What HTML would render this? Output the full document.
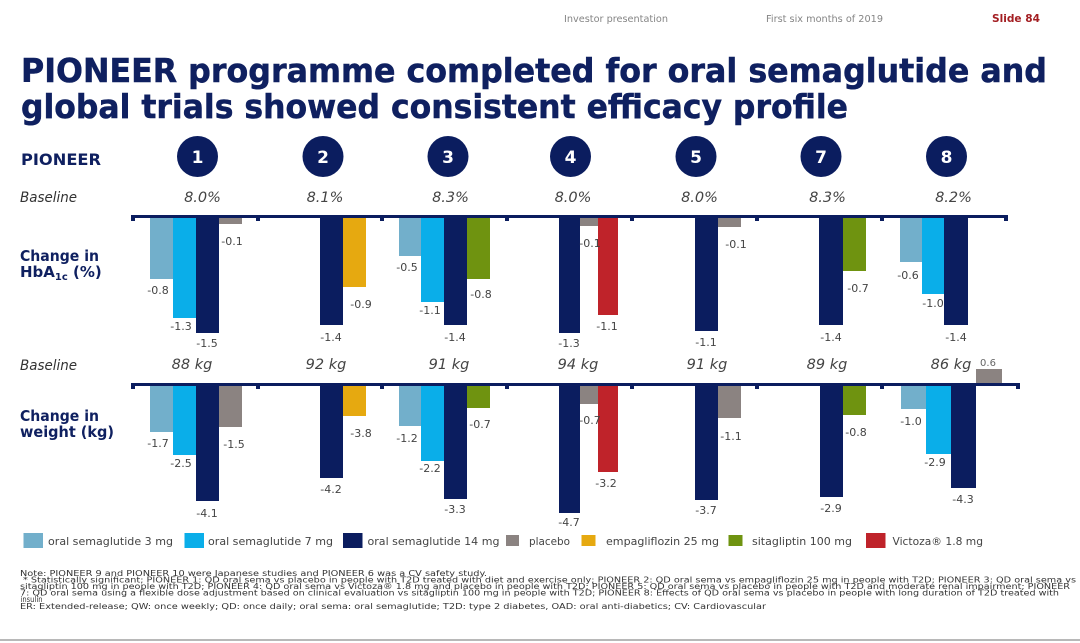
<!DOCTYPE html>
<html><head><meta charset="utf-8"><style>
html,body{margin:0;padding:0;background:#fff;}
svg{display:block;}
text{font-family:"DejaVu Sans","Liberation Sans",sans-serif;}
</style></head><body>
<svg width="1080" height="643" viewBox="0 0 1080 643" xmlns="http://www.w3.org/2000/svg">
<rect x="0" y="0" width="1080" height="643" fill="#fff"/>
<!-- header -->
<text x="564" y="22" font-size="10" fill="#858585" textLength="104" lengthAdjust="spacingAndGlyphs">Investor presentation</text>
<text x="766" y="22" font-size="10" fill="#858585" textLength="117" lengthAdjust="spacingAndGlyphs">First six months of 2019</text>
<text x="992" y="22" font-size="11" font-weight="bold" fill="#a31e22" textLength="48" lengthAdjust="spacingAndGlyphs">Slide 84</text>
<!-- title -->
<text x="21" y="82" font-size="33" font-weight="bold" fill="#0f2060" stroke="#0f2060" stroke-width="0.5" textLength="1026" lengthAdjust="spacingAndGlyphs">PIONEER programme completed for oral semaglutide and</text>
<text x="21" y="118" font-size="33" font-weight="bold" fill="#0f2060" stroke="#0f2060" stroke-width="0.5" textLength="827" lengthAdjust="spacingAndGlyphs">global trials showed consistent efficacy profile</text>
<!-- row labels -->
<text x="21" y="165" font-size="16" font-weight="bold" fill="#0f2060" textLength="80" lengthAdjust="spacingAndGlyphs">PIONEER</text>
<text x="20" y="202" font-size="14" font-style="italic" fill="#333" textLength="57" lengthAdjust="spacingAndGlyphs">Baseline</text>
<text x="20" y="261" font-size="15" font-weight="bold" fill="#0f2060" textLength="79" lengthAdjust="spacingAndGlyphs">Change in</text>
<text x="20" y="277" font-size="15" font-weight="bold" fill="#0f2060">HbA<tspan font-size="10" dy="3">1c</tspan><tspan dy="-3"> (%)</tspan></text>
<text x="20" y="370" font-size="14" font-style="italic" fill="#333" textLength="57" lengthAdjust="spacingAndGlyphs">Baseline</text>
<text x="20" y="421" font-size="15" font-weight="bold" fill="#0f2060" textLength="79" lengthAdjust="spacingAndGlyphs">Change in</text>
<text x="20" y="437" font-size="15" font-weight="bold" fill="#0f2060" textLength="94" lengthAdjust="spacingAndGlyphs">weight (kg)</text>
<!-- circles -->
<g fill="#0b1d5f">
<circle cx="197.5" cy="156.5" r="20.5"/><circle cx="323" cy="156.5" r="20.5"/><circle cx="448" cy="156.5" r="20.5"/>
<circle cx="570.5" cy="156.5" r="20.5"/><circle cx="696" cy="156.5" r="20.5"/><circle cx="821" cy="156.5" r="20.5"/><circle cx="946.5" cy="156.5" r="20.5"/>
</g>
<g font-size="17" font-weight="bold" fill="#fff" text-anchor="middle">
<text x="197.5" y="163">1</text><text x="323" y="163">2</text><text x="448" y="163">3</text>
<text x="570.5" y="163">4</text><text x="696" y="163">5</text><text x="821" y="163">7</text><text x="946.5" y="163">8</text>
</g>
<!-- baselines hba1c -->
<g font-size="14.5" font-style="italic" fill="#444" text-anchor="middle">
<text x="202.5" y="202">8.0%</text><text x="325" y="202">8.1%</text><text x="450.5" y="202">8.3%</text>
<text x="573" y="202">8.0%</text><text x="699.5" y="202">8.0%</text><text x="827.5" y="202">8.3%</text><text x="953.5" y="202">8.2%</text>
</g>
<!-- baselines weight -->
<g font-size="14.5" font-style="italic" fill="#444" text-anchor="middle">
<text x="192" y="369">88 kg</text><text x="326" y="369">92 kg</text><text x="449" y="369">91 kg</text>
<text x="578" y="369">94 kg</text><text x="707" y="369">91 kg</text><text x="827" y="369">89 kg</text><text x="951" y="369">86 kg</text>
</g>
<!-- HbA1c axis -->
<rect x="131" y="215" width="877" height="3" fill="#0b1d5f"/>
<g fill="#0b1d5f">
<rect x="131" y="215" width="4" height="6"/><rect x="256" y="215" width="4" height="6"/><rect x="380" y="215" width="4" height="6"/>
<rect x="505" y="215" width="4" height="6"/><rect x="630" y="215" width="4" height="6"/><rect x="755" y="215" width="4" height="6"/>
<rect x="880" y="215" width="4" height="6"/><rect x="1004" y="215" width="4" height="6"/>
</g>
<!-- HbA1c bars -->
<rect x="150" y="218" width="23" height="61" fill="#72afcb"/>
<rect x="173" y="218" width="23" height="100" fill="#0aaee9"/>
<rect x="196" y="218" width="23" height="115" fill="#0b1d5f"/>
<rect x="219" y="218" width="23" height="6" fill="#8b8381"/>
<rect x="320" y="218" width="23" height="107" fill="#0b1d5f"/>
<rect x="343" y="218" width="23" height="69" fill="#e6a910"/>
<rect x="399" y="218" width="22" height="38" fill="#72afcb"/>
<rect x="421" y="218" width="23" height="84" fill="#0aaee9"/>
<rect x="444" y="218" width="23" height="107" fill="#0b1d5f"/>
<rect x="467" y="218" width="23" height="61" fill="#6f9310"/>
<rect x="559" y="218" width="21" height="115" fill="#0b1d5f"/>
<rect x="580" y="218" width="18" height="8" fill="#8b8381"/>
<rect x="598" y="218" width="20" height="97" fill="#bf232a"/>
<rect x="695" y="218" width="23" height="113" fill="#0b1d5f"/>
<rect x="718" y="218" width="23" height="9" fill="#8b8381"/>
<rect x="819" y="218" width="24" height="107" fill="#0b1d5f"/>
<rect x="843" y="218" width="23" height="53" fill="#6f9310"/>
<rect x="900" y="218" width="22" height="44" fill="#72afcb"/>
<rect x="922" y="218" width="22" height="76" fill="#0aaee9"/>
<rect x="944" y="218" width="24" height="107" fill="#0b1d5f"/>
<!-- HbA1c labels -->
<g font-size="11" fill="#444" text-anchor="middle">
<text x="158" y="294">-0.8</text><text x="181" y="330">-1.3</text><text x="207" y="347">-1.5</text><text x="232" y="245">-0.1</text>
<text x="331" y="341">-1.4</text><text x="361" y="308">-0.9</text>
<text x="407" y="271">-0.5</text><text x="430" y="314">-1.1</text><text x="455" y="341">-1.4</text><text x="481" y="298">-0.8</text>
<text x="569" y="347">-1.3</text><text x="590" y="247">-0.1</text><text x="607" y="330">-1.1</text>
<text x="706" y="346">-1.1</text><text x="736" y="248">-0.1</text>
<text x="831" y="341">-1.4</text><text x="858" y="292">-0.7</text>
<text x="908" y="279">-0.6</text><text x="933" y="307">-1.0</text><text x="956" y="341">-1.4</text>
</g>
<!-- Weight axis -->
<rect x="131" y="383" width="889" height="3" fill="#0b1d5f"/>
<g fill="#0b1d5f">
<rect x="131" y="383" width="4" height="6"/><rect x="256" y="383" width="4" height="6"/><rect x="380" y="383" width="4" height="6"/>
<rect x="505" y="383" width="4" height="6"/><rect x="630" y="383" width="4" height="6"/><rect x="755" y="383" width="4" height="6"/>
<rect x="880" y="383" width="4" height="6"/><rect x="1016" y="383" width="4" height="6"/>
</g>
<!-- Weight bars -->
<rect x="150" y="386" width="23" height="46" fill="#72afcb"/>
<rect x="173" y="386" width="23" height="69" fill="#0aaee9"/>
<rect x="196" y="386" width="23" height="115" fill="#0b1d5f"/>
<rect x="219" y="386" width="23" height="41" fill="#8b8381"/>
<rect x="320" y="386" width="23" height="92" fill="#0b1d5f"/>
<rect x="343" y="386" width="23" height="30" fill="#e6a910"/>
<rect x="399" y="386" width="22" height="40" fill="#72afcb"/>
<rect x="421" y="386" width="23" height="75" fill="#0aaee9"/>
<rect x="444" y="386" width="23" height="113" fill="#0b1d5f"/>
<rect x="467" y="386" width="23" height="22" fill="#6f9310"/>
<rect x="559" y="386" width="21" height="127" fill="#0b1d5f"/>
<rect x="580" y="386" width="18" height="18" fill="#8b8381"/>
<rect x="598" y="386" width="20" height="86" fill="#bf232a"/>
<rect x="695" y="386" width="23" height="114" fill="#0b1d5f"/>
<rect x="718" y="386" width="23" height="32" fill="#8b8381"/>
<rect x="820" y="386" width="23" height="111" fill="#0b1d5f"/>
<rect x="843" y="386" width="23" height="29" fill="#6f9310"/>
<rect x="901" y="386" width="25" height="23" fill="#72afcb"/>
<rect x="926" y="386" width="25" height="68" fill="#0aaee9"/>
<rect x="951" y="386" width="25" height="102" fill="#0b1d5f"/>
<rect x="976" y="369" width="26" height="14" fill="#8b8381"/>
<!-- Weight labels -->
<g font-size="11" fill="#444" text-anchor="middle">
<text x="158" y="447">-1.7</text><text x="181" y="467">-2.5</text><text x="207" y="517">-4.1</text><text x="234" y="448">-1.5</text>
<text x="331" y="493">-4.2</text><text x="361" y="437">-3.8</text>
<text x="407" y="442">-1.2</text><text x="430" y="472">-2.2</text><text x="455" y="513">-3.3</text><text x="480" y="428">-0.7</text>
<text x="569" y="526">-4.7</text><text x="590" y="424">-0.7</text><text x="606" y="487">-3.2</text>
<text x="706" y="514">-3.7</text><text x="731" y="440">-1.1</text>
<text x="831" y="512">-2.9</text><text x="856" y="436">-0.8</text>
<text x="911" y="425">-1.0</text><text x="935" y="466">-2.9</text><text x="963" y="503">-4.3</text>
</g>
<text x="988" y="366" font-size="10" fill="#666" text-anchor="middle">0.6</text>
<!-- legend -->
<rect x="23.5" y="533" width="19.5" height="15" fill="#72afcb"/>
<text x="48" y="545" font-size="11" fill="#444" textLength="125" lengthAdjust="spacingAndGlyphs">oral semaglutide 3 mg</text>
<rect x="184.5" y="533" width="19.5" height="15" fill="#0aaee9"/>
<text x="208" y="545" font-size="11" fill="#444" textLength="125" lengthAdjust="spacingAndGlyphs">oral semaglutide 7 mg</text>
<rect x="343" y="533" width="19.5" height="15" fill="#0b1d5f"/>
<text x="367.5" y="545" font-size="11" fill="#444" textLength="132" lengthAdjust="spacingAndGlyphs">oral semaglutide 14 mg</text>
<rect x="506" y="535" width="13" height="11" fill="#8b8381"/>
<text x="529" y="545" font-size="11" fill="#444" textLength="41" lengthAdjust="spacingAndGlyphs">placebo</text>
<rect x="581.5" y="535" width="14" height="11" fill="#e6a910"/>
<text x="606" y="545" font-size="11" fill="#444" textLength="113" lengthAdjust="spacingAndGlyphs">empagliflozin 25 mg</text>
<rect x="728.5" y="535" width="14" height="11" fill="#6f9310"/>
<text x="752" y="545" font-size="11" fill="#444" textLength="100" lengthAdjust="spacingAndGlyphs">sitagliptin 100 mg</text>
<rect x="866" y="533" width="19.5" height="15" fill="#bf232a"/>
<text x="892.5" y="545" font-size="11" fill="#444" textLength="90.5" lengthAdjust="spacingAndGlyphs">Victoza® 1.8 mg</text>
<!-- footnotes -->
<g font-size="8" fill="#333">
<text x="20" y="576" textLength="467" lengthAdjust="spacingAndGlyphs">Note: PIONEER 9 and PIONEER 10 were Japanese studies and PIONEER 6 was a CV safety study.</text>
<text x="23" y="582.5" textLength="1053" lengthAdjust="spacingAndGlyphs">* Statistically significant; PIONEER 1: QD oral sema vs placebo in people with T2D treated with diet and exercise only; PIONEER 2: QD oral sema vs empagliflozin 25 mg in people with T2D; PIONEER 3: QD oral sema vs</text>
<text x="20" y="589" textLength="1050" lengthAdjust="spacingAndGlyphs">sitagliptin 100 mg in people with T2D; PIONEER 4: QD oral sema vs Victoza® 1.8 mg and placebo in people with T2D; PIONEER 5: QD oral sema vs placebo in people with T2D and moderate renal impairment; PIONEER</text>
<text x="20" y="595.5" textLength="1039" lengthAdjust="spacingAndGlyphs">7: QD oral sema using a flexible dose adjustment based on clinical evaluation vs sitagliptin 100 mg in people with T2D; PIONEER 8: Effects of QD oral sema vs placebo in people with long duration of T2D treated with</text>
<text x="20.5" y="602" textLength="22" lengthAdjust="spacingAndGlyphs">insulin</text>
<text x="20" y="609" textLength="746" lengthAdjust="spacingAndGlyphs">ER: Extended-release; QW: once weekly; QD: once daily; oral sema: oral semaglutide; T2D: type 2 diabetes, OAD: oral anti-diabetics; CV: Cardiovascular</text>
</g>
<rect x="0" y="639" width="1080" height="2" fill="#b8b8b8"/>
</svg>
</body></html>
